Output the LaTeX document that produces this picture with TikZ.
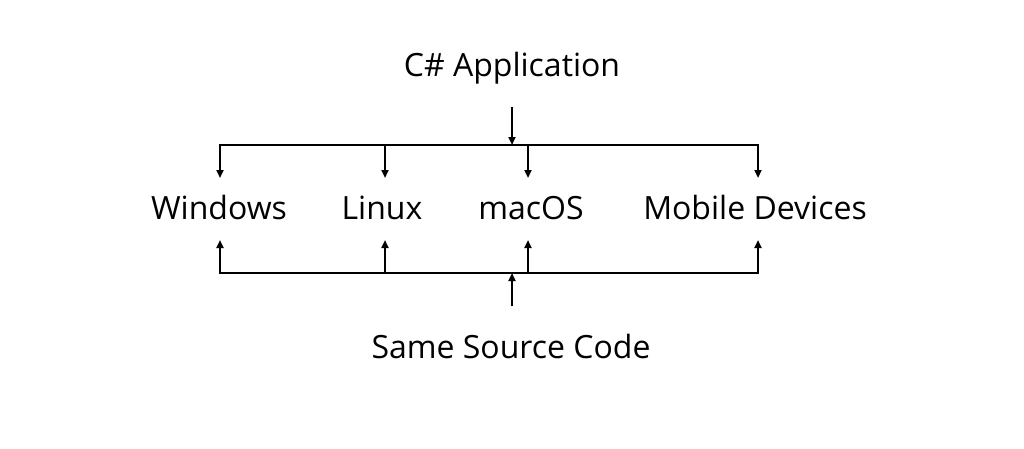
\documentclass[tikz,border=0pt]{standalone}
\usepackage{fontspec}
\setmainfont{Open Sans}
\usetikzlibrary{arrows.meta}
\begin{document}
\begin{tikzpicture}[x=1pt,y=-1pt,
  lbl/.style={font=\fontsize{32}{38}\selectfont, inner sep=0pt, anchor=base},
  wire/.style={line width=2.4pt, line cap=butt},
  arr/.style={wire, -{Triangle[length=8pt,width=7pt]}}]
\useasboundingbox[fill=white] (0,0) rectangle (1024,448);
% labels
\node[lbl] (app) at (512,76) {C\# Application};
\node[lbl] (win) at (219,219) {Windows};
\node[lbl] (lin) at (382,219) {Linux};
\node[lbl] (mac) at (531,219) {macOS};
\node[lbl] (mob) at (755,219) {Mobile Devices};
\node[lbl] (src) at (511,358) {Same Source Code};
% junction points
\coordinate (a0) at (512,107);
\coordinate (a1) at (512,145);
\coordinate (t1) at (220,145);
\coordinate (t2) at (385,145);
\coordinate (t3) at (528,145);
\coordinate (t4) at (758,145);
\coordinate (b1) at (220,273);
\coordinate (b2) at (385,273);
\coordinate (b3) at (528,273);
\coordinate (b4) at (758,273);
\coordinate (s0) at (512,306);
\coordinate (s1) at (512,273);
% top bus
\draw[arr] (a0) -- (a1);
\draw[wire] ([yshift=-1.2pt]t1) -- (t1) -- (t4) -- ([yshift=-1.2pt]t4);
\draw[arr] (t1) -- (220,178);
\draw[arr] (t2) -- (385,178);
\draw[arr] (t3) -- (528,178);
\draw[arr] (t4) -- (758,178);
% bottom bus
\draw[wire] ([yshift=1.2pt]b1) -- (b1) -- (b4) -- ([yshift=1.2pt]b4);
\draw[arr] (b1) -- (220,240);
\draw[arr] (b2) -- (385,240);
\draw[arr] (b3) -- (528,240);
\draw[arr] (b4) -- (758,240);
\draw[arr] (s0) -- (s1);
\end{tikzpicture}
\end{document}
